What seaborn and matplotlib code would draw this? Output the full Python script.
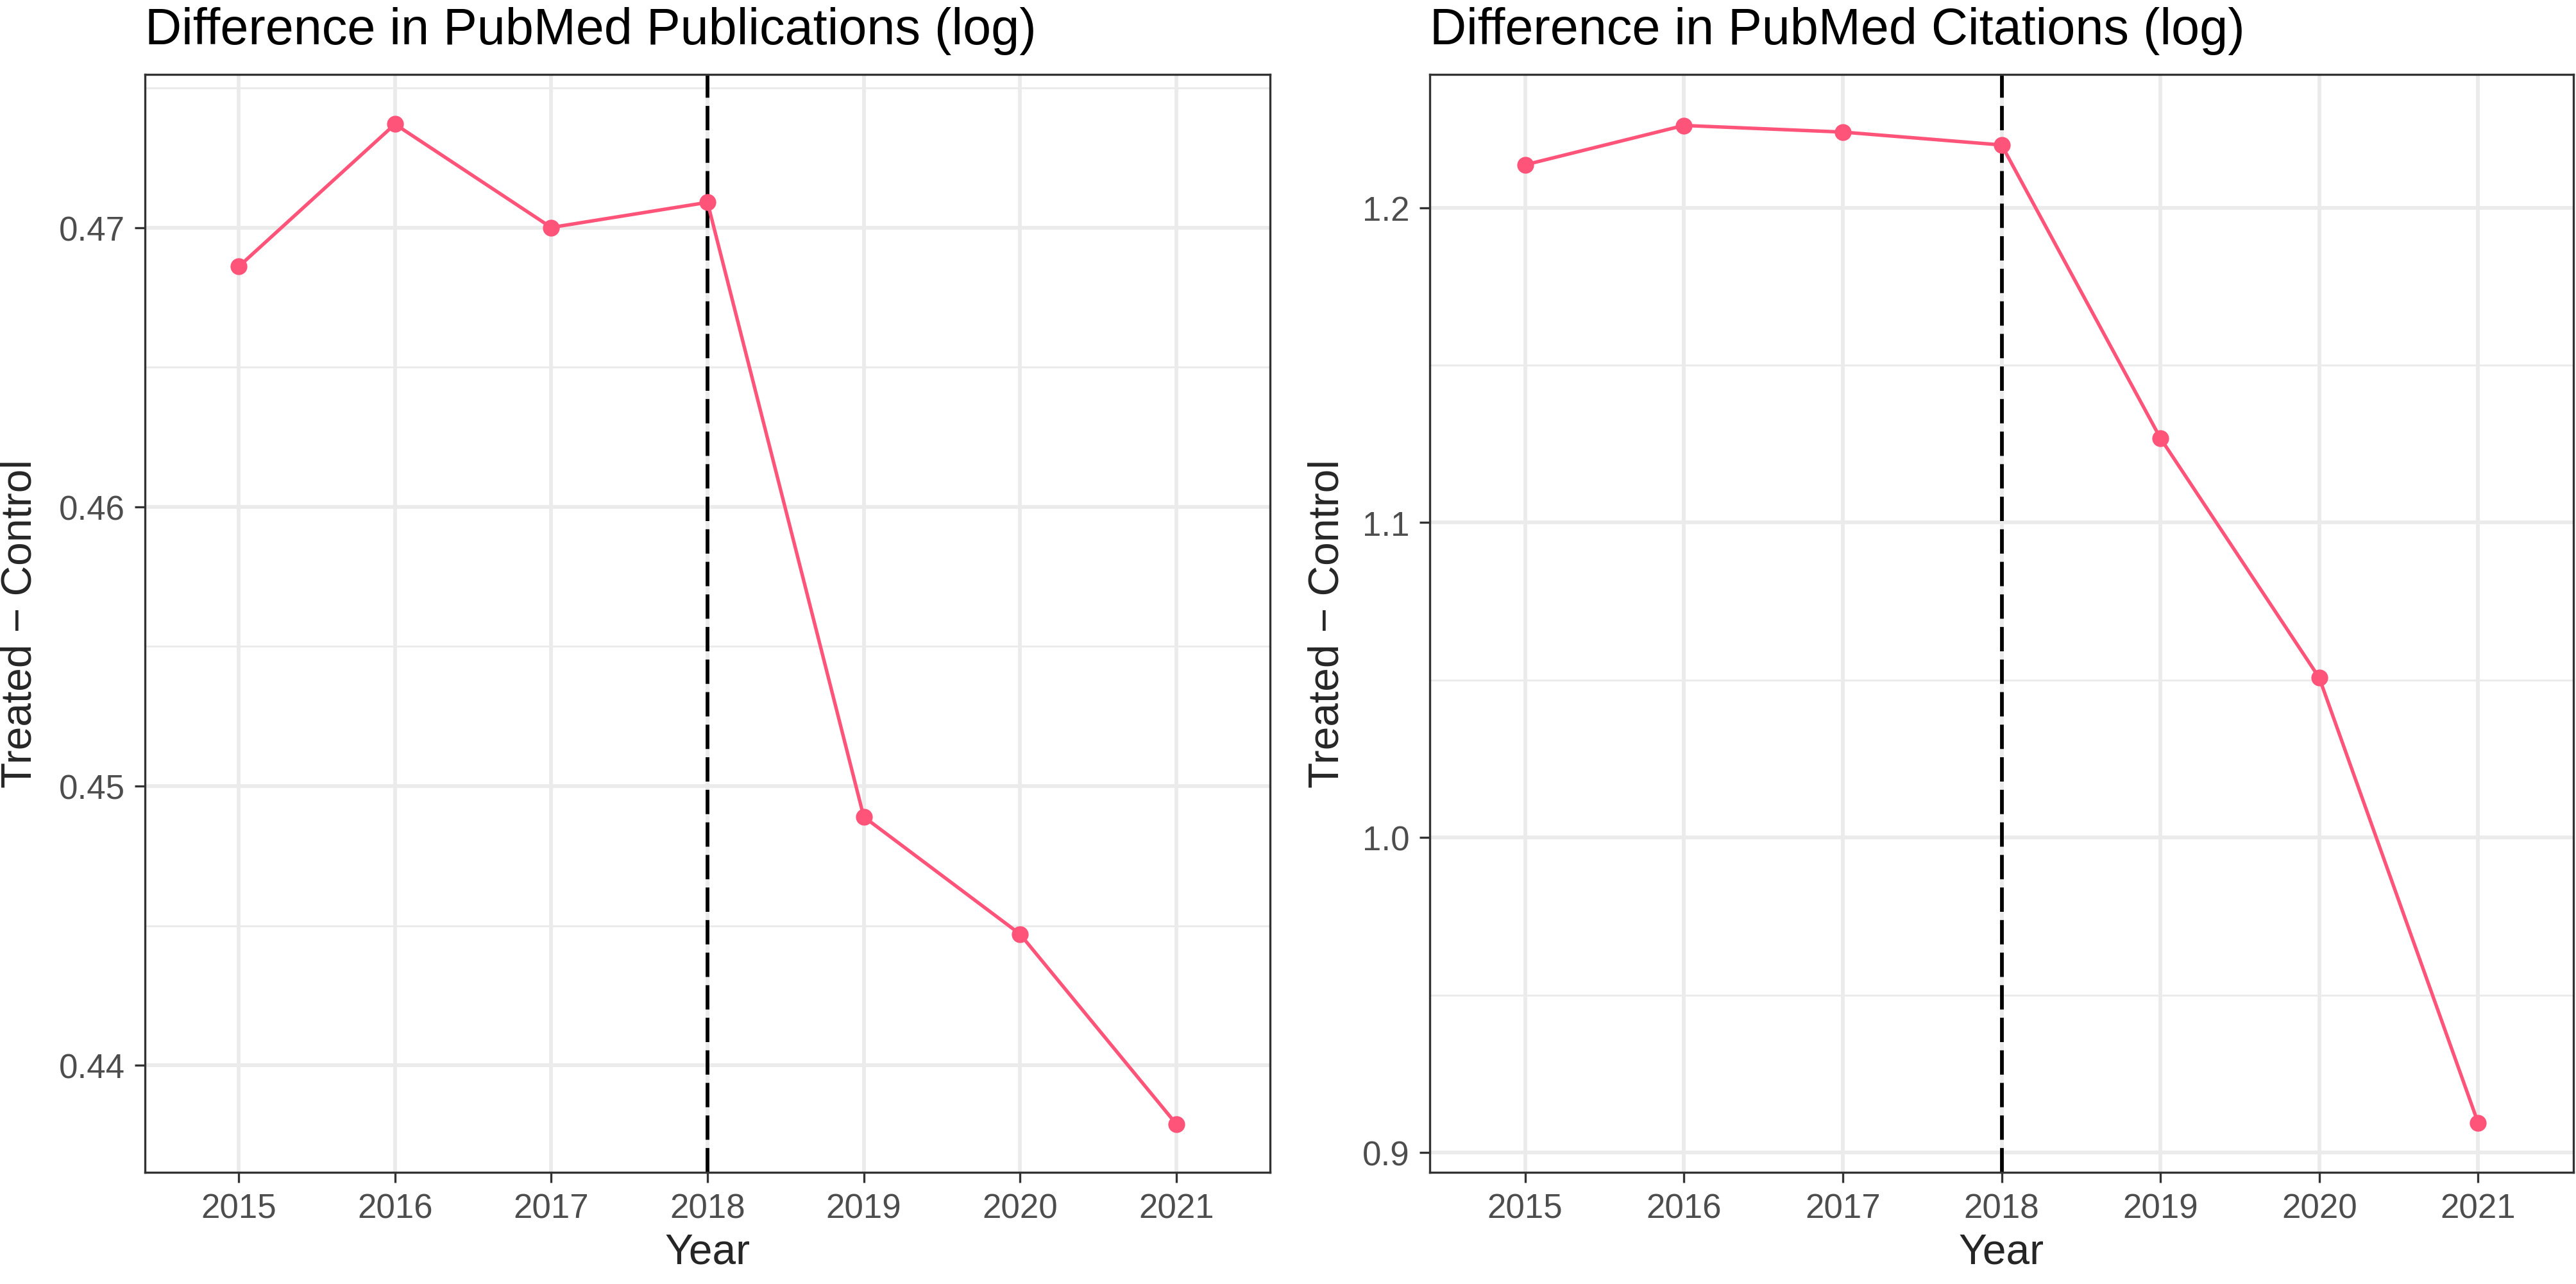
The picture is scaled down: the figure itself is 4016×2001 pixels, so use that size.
import seaborn as sns
import matplotlib
matplotlib.use("Agg")
import matplotlib.pyplot as plt
import pandas as pd
import numpy as np

# datos
anios = [2015, 2016, 2017, 2018, 2019, 2020, 2021]
publicaciones = [0.4686, 0.4737, 0.4700, 0.4709, 0.4489, 0.4447, 0.4379]
citas = [1.2136, 1.2261, 1.2240, 1.2199, 1.1268, 1.0507, 0.9094]

titulos = ["Difference in PubMed Publications (log)", "Difference in PubMed Citations (log)"]
ticks_y = [[0.44, 0.45, 0.46, 0.47], [0.9, 1.0, 1.1, 1.2]]
ticks_y_menor = [[0.435, 0.445, 0.455, 0.465, 0.475], [0.95, 1.05, 1.15]]
limites_y = [(0.43617, 0.47548), (0.8937, 1.2423)]
corte = 2018

sns.set_style("white")
plt.rcParams["font.family"] = ["Liberation Sans", "DejaVu Sans"]

rosa = "#FF5479"
gris_grid = "#EBEBEB"

fig = plt.figure(figsize=(4016 / 300, 2002 / 300), dpi=300)
ax1 = fig.add_axes([226 / 4016, 1 - 1828 / 2002, 1754 / 4016, 1711 / 2002])
ax2 = fig.add_axes([2229 / 4016, 1 - 1828 / 2002, 1783 / 4016, 1711 / 2002])

datos = pd.DataFrame({"Year": anios, "pub": publicaciones, "cit": citas})

for k, (ax, col) in enumerate([(ax1, "pub"), (ax2, "cit")]):
    # grid tipo ggplot
    for yv in ticks_y_menor[k]:
        ax.axhline(yv, color=gris_grid, lw=0.7, zorder=0)
    for yv in ticks_y[k]:
        ax.axhline(yv, color=gris_grid, lw=1.4, zorder=0)
    for xv in anios:
        ax.axvline(xv, color=gris_grid, lw=1.4, zorder=0)

    ax.axvline(corte, color="black", lw=1.4, ls=(0, (6.5, 2.2)), zorder=1)
    sns.lineplot(data=datos, x="Year", y=col, ax=ax, color=rosa, lw=1.3,
                 marker="o", markersize=6.3, markeredgewidth=0, zorder=3)

    ax.set_xlim(2014.4, 2021.6)
    ax.set_ylim(*limites_y[k])
    ax.set_xticks(anios)
    ax.set_xticklabels([str(a) for a in anios])
    ax.set_yticks(ticks_y[k])
    ax.set_yticklabels([f"{v:.2f}" if k == 0 else f"{v:.1f}" for v in ticks_y[k]])
    ax.tick_params(axis="both", length=3.9, width=0.8, color="#333333",
                   labelsize=12.7, labelcolor="#4D4D4D", pad=3.6,
                   left=True, bottom=True)
    for s in ax.spines.values():
        s.set_color("#333333")
        s.set_linewidth(0.8)
    ax.grid(False)

    ax.set_title(titulos[k], loc="left", fontsize=19, pad=11.5, color="black")
    ax.set_xlabel("Year", fontsize=15.8, labelpad=3)
    ax.set_ylabel("Treated \u2212 Control", fontsize=15.8)

ax1.yaxis.set_label_coords(-0.093, 0.5)
ax2.yaxis.set_label_coords(-0.072, 0.5)

plt.savefig("out.png", dpi=300)
